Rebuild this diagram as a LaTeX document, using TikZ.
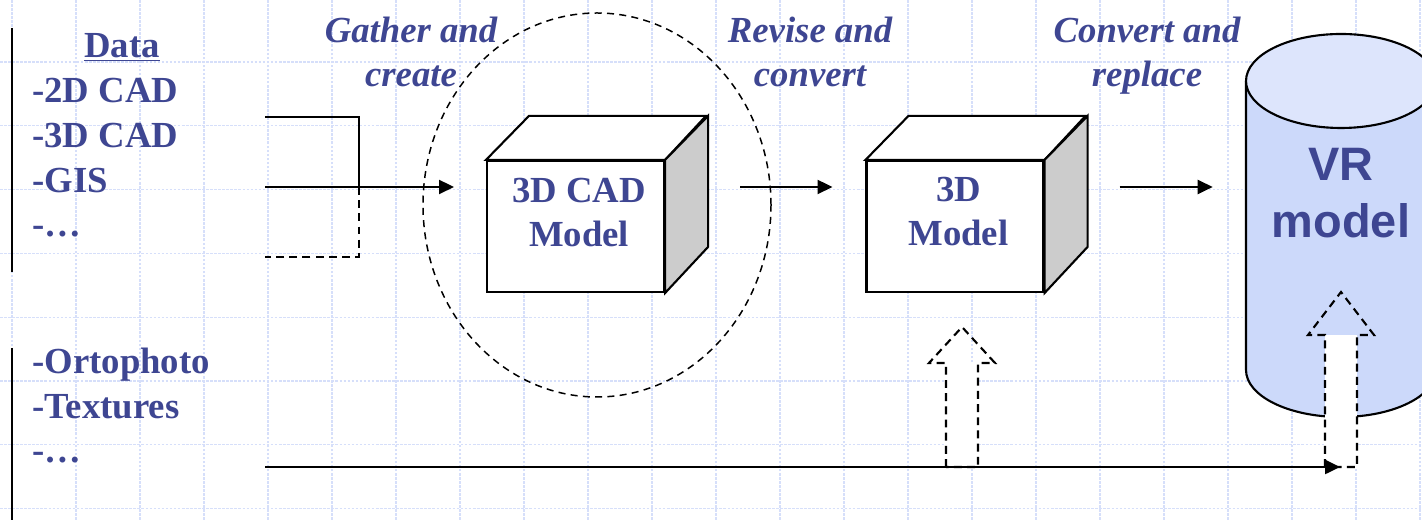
\documentclass[tikz,border=0pt]{standalone}
\usepackage{fontspec}
\setmainfont{Liberation Serif}
\setsansfont{Liberation Sans}
\usetikzlibrary{arrows.meta,positioning,calc}
\definecolor{inkblue}{RGB}{62,70,146}
\definecolor{gridblue}{RGB}{214,223,250}
\definecolor{cylbody}{RGB}{204,217,250}
\definecolor{cyltop}{RGB}{221,229,252}
\definecolor{sidegray}{RGB}{204,204,204}

\begin{document}
\begin{tikzpicture}[
  font={\fontsize{20.9}{25.6}\selectfont\bfseries},
  txt/.style={inner sep=0pt, text=inkblue, anchor=base west},
  stage/.style={inner sep=0pt, text=inkblue, align=center, anchor=base, font={\fontsize{20.9}{25.6}\selectfont\bfseries\itshape}},
  cube/.style={draw, line width=1.2pt, fill=white, minimum width=3.54cm, minimum height=2.62cm, inner sep=0pt},
  cubetext/.style={inner sep=0pt, text=inkblue, align=center, anchor=base},
  arrow/.style={-{Triangle[length=8.5pt,width=8pt]}, line width=1.2pt},
  link/.style={line width=1.2pt},
  hollow/.style={line width=1.2pt, dash pattern=on 4.5pt off 3pt},
  gridline/.style={gridblue, line width=0.6pt, dash pattern=on 1.5pt off 0.8pt}
]
\useasboundingbox (0,0) rectangle (28.44,10.4);
\clip (0,0) rectangle (28.44,10.4);

% background grid
\foreach \x in {0,...,22} \draw[gridline] ({0.24+1.28*\x},0) -- ++(0,10.4);
\foreach \y in {0,...,7} \draw[gridline] (0,{9.16-1.276*\y}) -- ++(28.44,0);

% source lists
\draw[line width=1.2pt] (0.24,9.84) -- (0.24,4.96);
\draw[line width=1.2pt] (0.24,3.44) -- (0.24,0);
\node[txt, anchor=base] (datahead) at (2.44,9.24) {\underline{Data}};
\node[txt, align=left] (datalist) at (0.64,5.66) {-2D CAD\\-3D CAD\\-GIS\\-…};
\node[txt, align=left] (texlist) at (0.64,1.14) {-Ortophoto\\-Textures\\-…};

% stage labels
\node[stage] (gather) at (8.22,8.66) {Gather and\\create};
\node[stage] (revise) at (16.20,8.66) {Revise and\\convert};
\node[stage] (replace) at (22.94,8.66) {Convert and\\replace};

% collecting bracket
\coordinate (feed) at (5.30,6.66);
\draw[link] (5.30,8.06) -- (7.18,8.06) -- (7.18,6.66);
\draw[hollow] (7.18,6.66) -- (7.18,5.26) -- (5.30,5.26);

\draw[line width=0.85pt, dash pattern=on 4pt off 3pt] (11.94,6.30) ellipse [x radius=3.48, y radius=3.84];

% models
\node[cube] (cad) at (11.51,5.87) {};
\node[cube] (mdl) at (19.10,5.87) {};
\foreach \c in {cad,mdl} {
  \draw[line width=1.2pt, fill=white] (\c.north west) -- ++(0.86,0.88) -- ++(3.54,0) -- (\c.north east) -- cycle;
  \draw[line width=1.2pt, fill=sidegray] (\c.north east) -- ++(0.86,0.88) -- ++(0,-2.62) -- (\c.south east) -- cycle;
}
\node[cubetext] (cadtext) at (11.58,5.46) {3D CAD\\Model};
\node[cubetext] (mdltext) at (19.17,5.48) {3D\\Model};

% VR cylinder
\node[minimum width=3.8cm, minimum height=7.68cm, inner sep=0pt] (vr) at (26.82,5.90) {};
\fill[cylbody] (24.92,8.78) -- (24.92,3.00) arc[start angle=180, end angle=360, x radius=1.9, y radius=0.94] -- (28.72,8.78) -- cycle;
\draw[line width=1.2pt] (24.92,8.78) -- (24.92,3.00) arc[start angle=180, end angle=360, x radius=1.9, y radius=0.94] -- (28.72,8.78);
\draw[line width=1.2pt, fill=cyltop] (26.82,8.78) ellipse [x radius=1.9, y radius=0.94];
\node[inner sep=0pt, text=inkblue, align=center, anchor=base, font={\sffamily\bfseries\fontsize{26.7}{33}\selectfont}] (vrtext) at (26.82,5.64) {VR\\model};

\draw[arrow, shorten >=0.64cm] (feed) -- (feed -| cad.west);
\draw[arrow, shorten <=1.5cm, shorten >=0.66cm] (feed -| cad.east) -- (feed -| mdl.west);
\draw[arrow, shorten <=1.5cm, shorten >=0.66cm] (feed -| mdl.east) -- (feed -| vr.west);

% texture inputs
\foreach \x/\tip/\base in {19.24/3.86/3.14, 26.82/4.56/3.70} {
  \fill[white] ({\x-0.32},1.06) rectangle ({\x+0.32},\base);
  \draw[hollow] ({\x-0.32},1.06) -- ({\x-0.32},\base) -- ({\x-0.66},\base) -- (\x,\tip) -- ({\x+0.66},\base) -- ({\x+0.32},\base) -- ({\x+0.32},1.06) -- cycle;
}
\coordinate (texfeed) at (5.30,1.06);
\coordinate (vrfeed) at (26.80,1.06);
\draw[arrow] (texfeed) -- (vrfeed);
\end{tikzpicture}
\end{document}
